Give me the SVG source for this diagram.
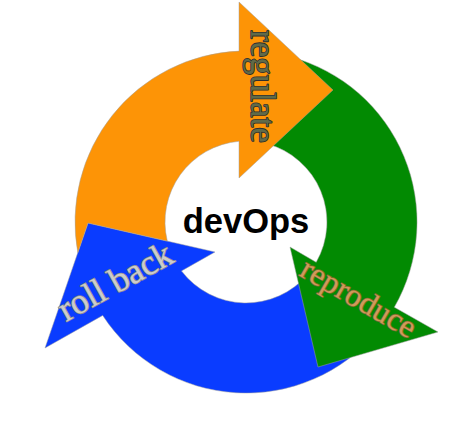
<svg xmlns="http://www.w3.org/2000/svg" width="474" height="424" viewBox="0 0 474 424">
  <style>
    .band { stroke: #a0a0a0; stroke-width: 0.5; stroke-linejoin: miter; }
    .lbl { font-family: "Liberation Serif", "Times New Roman", serif; paint-order: stroke; stroke-width: 1.6; stroke-linejoin: round; }
    .center { font-family: "Liberation Sans", Arial, sans-serif; font-weight: bold; fill: #000; }
  </style>
  <rect width="474" height="424" fill="#ffffff"/>
  <g id="connectors"/>
  <g id="node-rollback">
    <path class="band" fill="#0a3cff" d="M 377 331.9 A 171 171 0 0 1 102.7 315.4 L 45 348 L 88 223 L 215 252 L 181.5 270.9 A 81 81 0 0 0 308.05 274.07 Z"/>
    <text class="lbl" transform="translate(66,322) rotate(-29)" font-size="35.5" fill="#cccccc" stroke="#8a8a8a">roll back</text>
  </g>
  <g id="node-reproduce">
    <path class="band" fill="#028a02" d="M 290.3 56.8 A 171 171 0 0 1 394.3 307.2 L 438 332 L 318 367 L 290 247 L 316.2 262.3 A 81 81 0 0 0 267 143.8 Z"/>
    <text class="lbl" transform="translate(298,275) rotate(30)" font-size="32" fill="#cf9a5a" stroke="#7d6a2e">reproduce</text>
  </g>
  <g id="node-regulate">
    <path class="band" fill="#fd9406" d="M 77.8 252.7 L 88 223 L 167.3 241.1 A 81 81 0 0 1 239 141.3 L 239 178 L 333 90 L 239 2 L 239 51.1 A 171 171 0 0 0 77.8 252.7 Z"/>
    <text class="lbl" transform="translate(251,30) rotate(90)" font-size="35" fill="#606a48" stroke="#2e2e2e">regulate</text>
  </g>
  <g id="node-devops">
    <text class="center" x="246" y="233" font-size="34.5" text-anchor="middle">devOps</text>
  </g>
</svg>
